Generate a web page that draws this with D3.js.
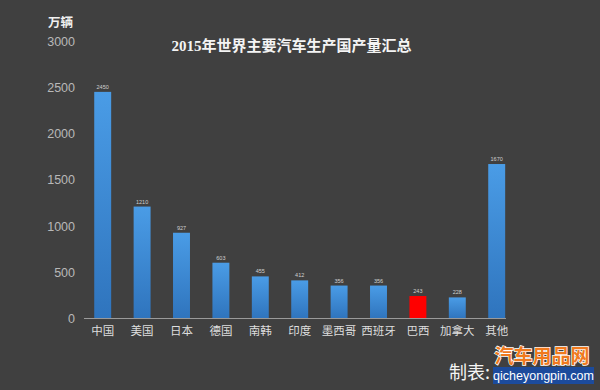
<!DOCTYPE html>
<html><head><meta charset="utf-8">
<script src="https://cdn.jsdelivr.net/npm/d3@7"></script>
<style>html,body{margin:0;padding:0;background:#404040;}svg{display:block;}</style>
</head><body>
<svg id="c" width="600" height="390"></svg>
<script>
const categories = ["中国","美国","日本","德国","南韩","印度","墨西哥","西班牙","巴西","加拿大","其他"];
const values = [2450,1210,927,603,455,412,356,356,243,228,1670];
const highlight = ["巴西"];
const yTicks = [0,500,1000,1500,2000,2500,3000];
const titleText = "2015年世界主要汽车生产国产量汇总";
const unitText = "万辆";

const svg = d3.select("#c");
svg.append("rect").attr("width",600).attr("height",390).attr("fill","#404040");

const defs = svg.append("defs");
const g1 = defs.append("linearGradient").attr("id","blue").attr("x1",0).attr("y1",0).attr("x2",0).attr("y2",1);
g1.append("stop").attr("offset","0%").attr("stop-color","#4a9ce6");
g1.append("stop").attr("offset","100%").attr("stop-color","#2f74bd");

const x = d3.scaleBand().domain(categories).range([83,516.4]).paddingInner(0.57).paddingOuter(0.285);
const y = d3.scaleLinear().domain([0,3000]).range([318.5,41]);

// y tick labels
const yAxis = d3.axisLeft(y).tickValues(yTicks).tickFormat(d3.format("d")).tickSize(0).tickPadding(0);
const ya = svg.append("g").attr("transform","translate(75,0)").call(yAxis);
ya.select(".domain").remove();
ya.selectAll("text").attr("fill","#b8b8b8").style("font-family","Liberation Sans, Arial, sans-serif").style("font-size","12.5px");

// bars
svg.append("g").selectAll("rect").data(categories).join("rect")
  .attr("x",d=>x(d)).attr("width",x.bandwidth())
  .attr("y",(d,i)=>y(values[i])).attr("height",(d,i)=>y(0)-y(values[i]))
  .attr("fill",d=>highlight.includes(d)?"#ff0000":"url(#blue)");

// value labels
svg.append("g").selectAll("text").data(categories).join("text")
  .attr("x",d=>x(d)+x.bandwidth()/2).attr("y",(d,i)=>y(values[i])-3)
  .attr("text-anchor","middle").attr("fill","#d0d0d0")
  .style("font-family","Liberation Sans, Arial, sans-serif").style("font-size","5.5px")
  .text((d,i)=>values[i]);

// x axis
const xAxis = d3.axisBottom(x).tickSize(0).tickPadding(8);
const xa = svg.append("g").attr("transform",`translate(0,${y(0)})`).call(xAxis);
xa.select(".domain").remove();
xa.selectAll("text").attr("fill","#dedede").style("font-family","Noto Sans CJK SC, sans-serif").style("font-size","11.5px");
svg.append("line").attr("x1",84).attr("x2",506).attr("y1",y(0)).attr("y2",y(0)).attr("stroke","#9a9a9a").attr("stroke-width",1.2);

// unit
svg.append("text").attr("x",48).attr("y",27).attr("fill","#f0f0f0").attr("font-weight","bold")
  .style("font-family","Noto Sans CJK SC, sans-serif").style("font-size","12.5px").text(unitText);

// title
svg.append("text").attr("x",291.5).attr("y",50.5).attr("text-anchor","middle").attr("fill","#f4f4f4")
  .attr("font-weight","bold").style("font-family","Liberation Serif, Noto Sans CJK SC, serif").style("font-size","15px").text(titleText);

// watermark
svg.append("text").attr("x",449).attr("y",379).attr("fill","#f4f4f4")
  .style("font-family","Noto Sans CJK SC, sans-serif").style("font-size","18px").text("制表:");
svg.append("rect").attr("x",493).attr("y",367).attr("width",101).attr("height",17).attr("fill","#1c4b9c");
svg.append("text").attr("x",543.5).attr("y",380).attr("text-anchor","middle").attr("fill","#ffffff")
  .style("font-family","Liberation Sans, Arial, sans-serif").style("font-size","12.5px").text("qicheyongpin.com");
svg.append("text").attr("x",542).attr("y",363).attr("text-anchor","middle").attr("fill","#f07a1e")
  .attr("stroke","#ffffff").attr("stroke-width",1.5).attr("paint-order","stroke").attr("font-weight","bold")
  .style("font-family","Noto Sans CJK SC, sans-serif").style("font-size","19px").text("汽车用品网");
</script>
</body></html>
